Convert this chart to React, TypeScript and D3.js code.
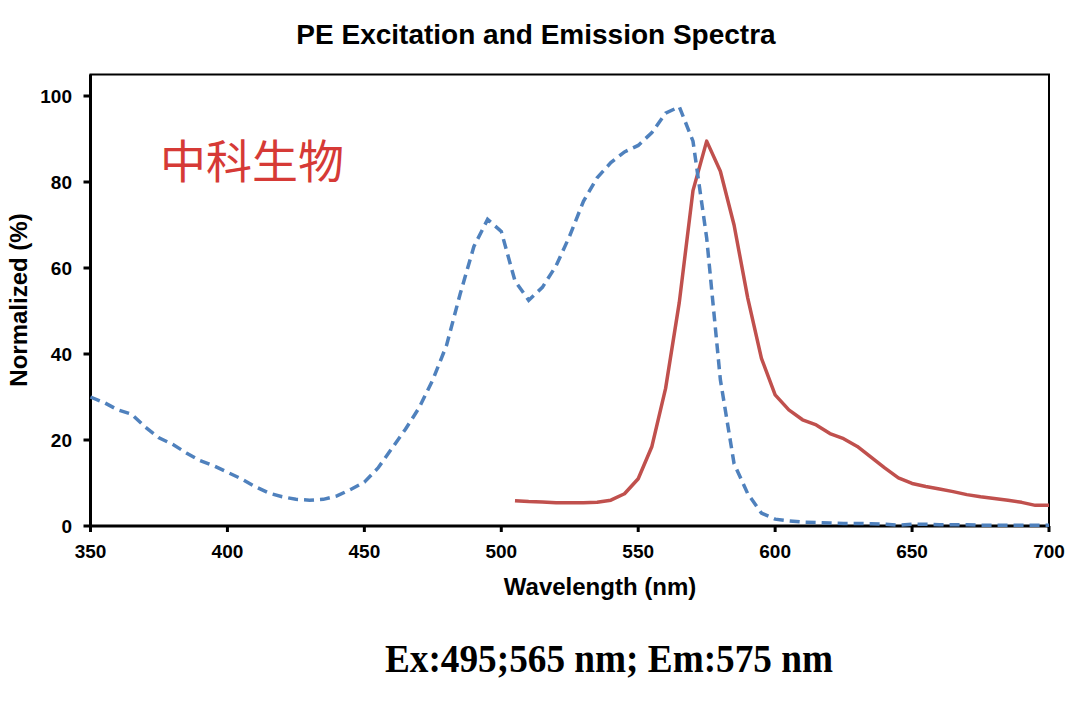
import React from 'react';
import * as d3 from 'd3';

// wavelength grid (nm), 5 nm steps
const exWavelengths = d3.range(350, 701, 5);
const excitation = [
  30, 28.7, 27, 26, 23, 20.5, 19, 17, 15.2, 14,
  12.5, 11, 9.2, 7.7, 6.8, 6.2, 6, 6.2, 7, 8.5,
  10.2, 13.5, 18, 22.5, 27.5, 34, 42, 54, 65, 71.3,
  68.5, 57, 52.5, 55.5, 60.5, 67.5, 75.5, 81, 84.5, 87,
  88.5, 91.5, 96, 97.5, 89.5, 67, 34, 14.5, 7.5, 3,
  1.6, 1.2, 0.9, 0.8, 0.7, 0.6, 0.6, 0.5, 0.4, 0.2,
  0.4, 0.4, 0.3, 0.3, 0.3, 0.2, 0.2, 0.2, 0.2, 0.2, 0.2,
];

const emWavelengths = d3.range(505, 701, 5);
const emission = [
  5.9, 5.7, 5.6, 5.4, 5.4, 5.4, 5.5, 6, 7.5, 11,
  18.5, 32, 52, 78, 89.5, 82.5, 70, 53, 39, 30.5,
  27, 24.7, 23.5, 21.5, 20.3, 18.5, 16, 13.5, 11.2, 9.9,
  9.2, 8.6, 8, 7.3, 6.8, 6.4, 6, 5.5, 4.8, 4.8,
];

const xTicks = [350, 400, 450, 500, 550, 600, 650, 700];
const yTicks = [0, 20, 40, 60, 80, 100];

const W = 1088;
const H = 704;

const App: React.FC = () => {
  const x = d3.scaleLinear().domain([350, 700]).range([90.5, 1049]);
  const y = d3.scaleLinear().domain([0, 105]).range([526, 74.5]);

  const line = d3.line<[number, number]>()
    .x(d => x(d[0]))
    .y(d => y(d[1]));

  const exPath = line(exWavelengths.map((w, i) => [w, excitation[i]]))!;
  const emPath = line(emWavelengths.map((w, i) => [w, emission[i]]))!;

  const [x0, x1] = x.range();
  const [y0, y1] = y.range();
  const font = 'Arial, "Liberation Sans", sans-serif';

  return (
    <svg width={W} height={H} style={{ position: 'absolute', left: 0, top: 0, background: '#fff' }}>
      <text x={536} y={44} textAnchor="middle" fontFamily={font} fontWeight="bold" fontSize={28}>
        PE Excitation and Emission Spectra
      </text>

      {/* frame */}
      <rect x={x0} y={y1} width={x1 - x0} height={y0 - y1} fill="none" stroke="#000" strokeWidth={2} />
      <line x1={x0} x2={x0} y1={y1} y2={y0} stroke="#000" strokeWidth={3} />
      <line x1={x0} x2={x1} y1={y0} y2={y0} stroke="#000" strokeWidth={3} />

      {yTicks.map(t => (
        <g key={'y' + t}>
          <line x1={x0 - 7} x2={x0} y1={y(t)} y2={y(t)} stroke="#000" strokeWidth={3} />
          <text x={72} y={y(t) + 7} textAnchor="end" fontFamily={font} fontWeight="bold" fontSize={19}>{t}</text>
        </g>
      ))}
      {xTicks.map(t => (
        <g key={'x' + t}>
          <line x1={x(t)} x2={x(t)} y1={y0} y2={y0 + 6} stroke="#000" strokeWidth={3} />
          <text x={x(t)} y={558} textAnchor="middle" fontFamily={font} fontWeight="bold" fontSize={19}>{t}</text>
        </g>
      ))}

      <text x={600} y={595} textAnchor="middle" fontFamily={font} fontWeight="bold" fontSize={24}>
        Wavelength (nm)
      </text>
      <text transform="translate(27,300) rotate(-90)" textAnchor="middle" fontFamily={font} fontWeight="bold" fontSize={24}>
        Normalized (%)
      </text>

      <text x={160} y={178} fontFamily='"Noto Sans CJK SC", sans-serif' fontSize={46} fill="#d63a36">
        中科生物
      </text>

      <path d={emPath} fill="none" stroke="#c0504d" strokeWidth={3.5} strokeLinejoin="round" />
      <path d={exPath} fill="none" stroke="#4f81bd" strokeWidth={3.5} strokeDasharray="10 6" />

      <text x={609} y={672} textAnchor="middle" fontFamily='"Times New Roman", "Liberation Serif", serif' fontWeight="bold" fontSize={40}
        textLength={448} lengthAdjust="spacingAndGlyphs">
        Ex:495;565 nm; Em:575 nm
      </text>
    </svg>
  );
};

export default App;
